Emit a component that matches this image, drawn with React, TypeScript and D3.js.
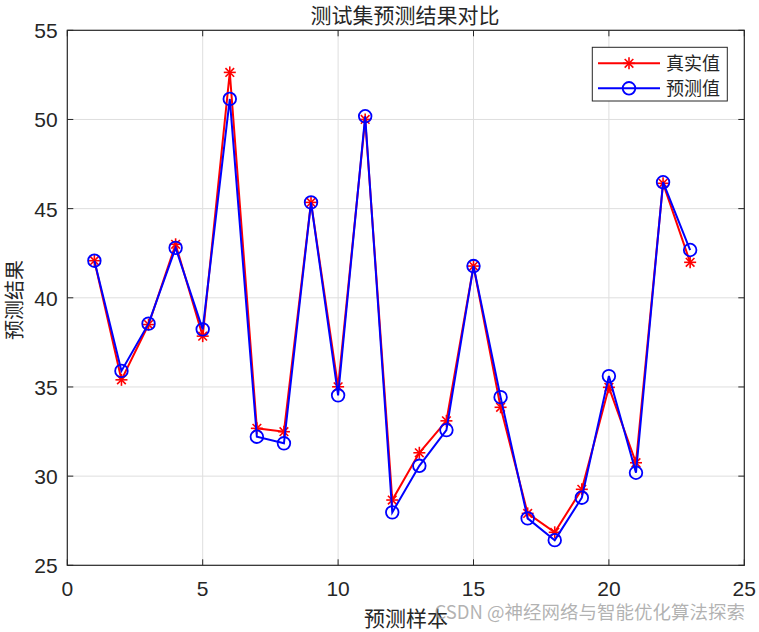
import React from "react";
import * as d3 from "d3";

const samples = d3.range(1, 24);
const trueValues = [42.08, 35.4, 38.5, 43.0, 37.85, 52.64, 32.68, 32.49, 45.35, 35.01, 50.0, 28.66, 31.31, 33.1, 41.78, 33.86, 27.91, 26.85, 29.26, 34.98, 30.75, 46.42, 41.99];
const predValues = [42.08, 35.9, 38.55, 42.8, 38.23, 51.15, 32.21, 31.84, 45.35, 34.53, 50.18, 27.97, 30.58, 32.58, 41.78, 34.43, 27.63, 26.41, 28.79, 35.61, 30.19, 46.48, 42.68];
const xTicks = [0, 5, 10, 15, 20, 25];
const yTicks = [25, 30, 35, 40, 45, 50, 55];
const title = "测试集预测结果对比";
const xLabel = "预测样本";
const yLabel = "预测结果";
const legendLabels = ["真实值", "预测值"];
const watermark = "CSDN @神经网络与智能优化算法探索";

const W = 759, H = 632;
const L = 67.3, R = 744.3, T = 30.3, B = 565.3;
const CJK = "'Noto Sans CJK SC', sans-serif";
const NUM = "'Liberation Sans', Arial, Helvetica, sans-serif";

function Star({ cx, cy, color }: { cx: number; cy: number; color: string }) {
  const r = 6;
  const d = r * 0.72;
  return (
    <g stroke={color} strokeWidth={1.6}>
      <line x1={cx - r} y1={cy} x2={cx + r} y2={cy} />
      <line x1={cx} y1={cy - r} x2={cx} y2={cy + r} />
      <line x1={cx - d} y1={cy - d} x2={cx + d} y2={cy + d} />
      <line x1={cx - d} y1={cy + d} x2={cx + d} y2={cy - d} />
    </g>
  );
}

export default function App() {
  const x = d3.scaleLinear().domain([0, 25]).range([L, R]);
  const y = d3.scaleLinear().domain([25, 55]).range([B, T]);
  const line = d3
    .line<number>()
    .x((_, i) => x(samples[i]))
    .y((v) => y(v));
  const lx = 592.3, ly = 47.3, lw = 135, lh = 53.7;
  return (
    <svg width={W} height={H} style={{ position: "absolute", left: 0, top: 0, background: "#fff" }}>
      <rect x={0} y={0} width={W} height={H} fill="#fff" />
      <rect x={L} y={T} width={R - L} height={B - T} fill="#fff" />
      {/* grid */}
      {xTicks.slice(1, -1).map((t) => (
        <line key={"gx" + t} x1={x(t)} x2={x(t)} y1={T} y2={B} stroke="#dedede" strokeWidth={1} />
      ))}
      {yTicks.slice(1, -1).map((t) => (
        <line key={"gy" + t} x1={L} x2={R} y1={y(t)} y2={y(t)} stroke="#dedede" strokeWidth={1} />
      ))}
      {/* lines */}
      <path d={line(trueValues) || ""} fill="none" stroke="#ff0000" strokeWidth={2} />
      {trueValues.map((v, i) => (
        <Star key={"s" + i} cx={x(samples[i])} cy={y(v)} color="#ff0000" />
      ))}
      <path d={line(predValues) || ""} fill="none" stroke="#0000ff" strokeWidth={2} />
      {predValues.map((v, i) => (
        <circle key={"c" + i} cx={x(samples[i])} cy={y(v)} r={6.3} fill="none" stroke="#0000ff" strokeWidth={1.8} />
      ))}
      {/* axes box and ticks */}
      <rect x={L} y={T} width={R - L} height={B - T} fill="none" stroke="#262626" strokeWidth={1.2} />
      {xTicks.map((t) => (
        <g key={"tx" + t}>
          <line x1={x(t)} x2={x(t)} y1={B} y2={B - 6} stroke="#262626" strokeWidth={1} />
          <line x1={x(t)} x2={x(t)} y1={T} y2={T + 6} stroke="#262626" strokeWidth={1} />
          <text x={x(t)} y={596} textAnchor="middle" fontFamily={NUM} fontSize={21} fill="#262626">
            {t}
          </text>
        </g>
      ))}
      {yTicks.map((t) => (
        <g key={"ty" + t}>
          <line x1={L} x2={L + 6} y1={y(t)} y2={y(t)} stroke="#262626" strokeWidth={1} />
          <line x1={R} x2={R - 6} y1={y(t)} y2={y(t)} stroke="#262626" strokeWidth={1} />
          <text x={L - 9.6} y={y(t) + 8} textAnchor="end" fontFamily={NUM} fontSize={21} fill="#262626">
            {t}
          </text>
        </g>
      ))}
      {/* title & labels */}
      <text x={405} y={23} textAnchor="middle" fontFamily={CJK} fontSize={21} fill="#262626">
        {title}
      </text>
      <text x={406} y={626} textAnchor="middle" fontFamily={CJK} fontSize={21} fill="#262626">
        {xLabel}
      </text>
      <text
        transform={`translate(21, 300) rotate(-90)`}
        textAnchor="middle"
        dominantBaseline="central"
        dy={-8}
        fontFamily={CJK}
        fontSize={20}
        fill="#262626"
      >
        {yLabel}
      </text>
      {/* legend */}
      <rect x={lx} y={ly} width={lw} height={lh} fill="#fff" stroke="#262626" strokeWidth={1} />
      <line x1={598} x2={660} y1={63.3} y2={63.3} stroke="#ff0000" strokeWidth={2} />
      <Star cx={629} cy={63.3} color="#ff0000" />
      <text x={666} y={70} fontFamily={CJK} fontSize={18} fill="#262626">
        {legendLabels[0]}
      </text>
      <line x1={598} x2={660} y1={88.3} y2={88.3} stroke="#0000ff" strokeWidth={2} />
      <circle cx={629} cy={88.3} r={6.3} fill="none" stroke="#0000ff" strokeWidth={1.8} />
      <text x={666} y={95} fontFamily={CJK} fontSize={18} fill="#262626">
        {legendLabels[1]}
      </text>
      {/* watermark */}
      <text x={745} y={619} textAnchor="end" fontFamily={CJK} fontSize={18.5} fill="#999" fillOpacity={0.75}>
        {watermark}
      </text>
    </svg>
  );
}
